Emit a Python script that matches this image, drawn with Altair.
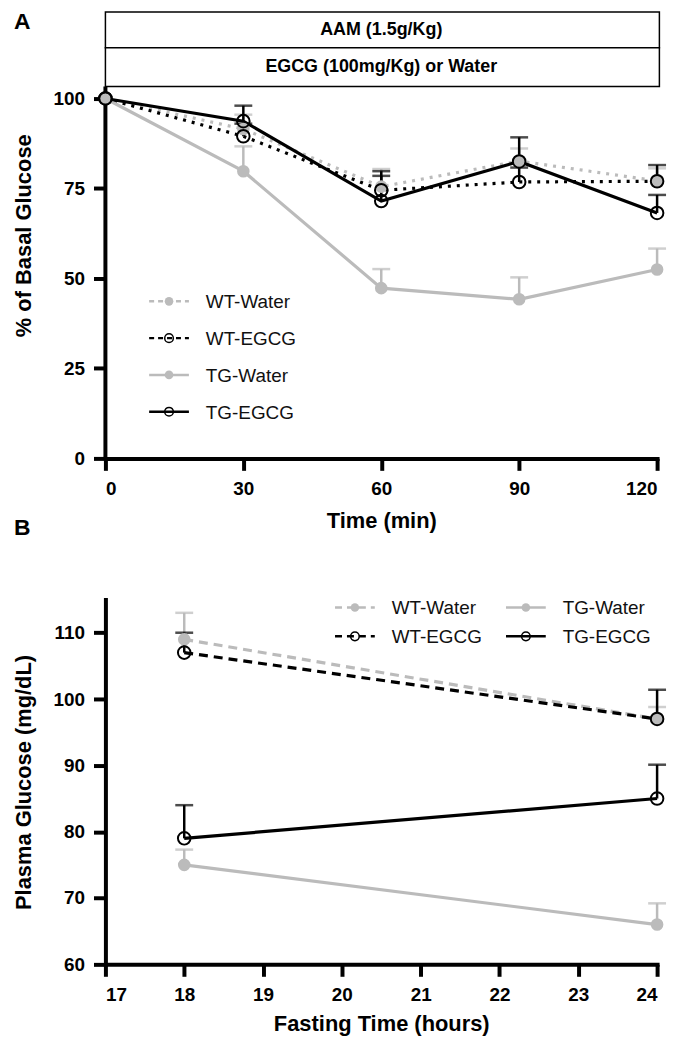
import altair as alt
import pandas as pd

# ---------------- data ----------------
series_names = ["WT-Water", "WT-EGCG", "TG-Water", "TG-EGCG"]

# Panel A: % of basal glucose vs time (min)
time_a = [0, 30, 60, 90, 120]
a_wt_water = [100, 91.5, 75.5, 82.6, 77.1]
a_wt_water_sem = [0, 4.0, 4.9, 3.5, 3.5]
a_wt_egcg = [100, 89.5, 74.5, 76.8, 77.0]
a_wt_egcg_sem = [0, 3.5, 4.0, 4.0, 4.5]
a_tg_water = [100, 79.8, 47.3, 44.2, 52.5]
a_tg_water_sem = [0, 6.9, 5.3, 6.1, 5.8]
a_tg_egcg = [100, 93.7, 71.5, 82.5, 68.2]
a_tg_egcg_sem = [0, 4.3, 8.3, 6.7, 5.0]

# Panel B: plasma glucose vs fasting time (hours)
time_b = [18, 24]
b_wt_water = [109, 97]
b_wt_water_sem = [4.0, 1.8]
b_wt_egcg = [107, 97]
b_wt_egcg_sem = [3.0, 4.4]
b_tg_water = [75, 66]
b_tg_water_sem = [2.3, 3.2]
b_tg_egcg = [79, 85]
b_tg_egcg_sem = [5.0, 5.1]

box_labels = ["AAM (1.5g/Kg)", "EGCG (100mg/Kg) or Water"]
a_ticks_y = [0, 25, 50, 75, 100]
b_ticks_x = [17, 18, 19, 20, 21, 22, 23, 24]
b_ticks_y = [60, 70, 80, 90, 100, 110]

# ---------------- style ----------------
FONT = "Liberation Sans, Arial, sans-serif"
GRAY = "#bbbbbb"
BLACK = "#000000"
styles = {
    "WT-Water": dict(color=GRAY, filled=True, wt=True),
    "WT-EGCG": dict(color=BLACK, filled=False, wt=True),
    "TG-Water": dict(color=GRAY, filled=True, wt=False),
    "TG-EGCG": dict(color=BLACK, filled=False, wt=False),
}


def frame(t, means, sems):
    return pd.DataFrame({"t": t, "v": means, "hi": [m + s for m, s in zip(means, sems)],
                         "sem": sems})


a_frames = {
    "WT-Water": frame(time_a, a_wt_water, a_wt_water_sem),
    "WT-EGCG": frame(time_a, a_wt_egcg, a_wt_egcg_sem),
    "TG-Water": frame(time_a, a_tg_water, a_tg_water_sem),
    "TG-EGCG": frame(time_a, a_tg_egcg, a_tg_egcg_sem),
}
b_frames = {
    "WT-Water": frame(time_b, b_wt_water, b_wt_water_sem),
    "WT-EGCG": frame(time_b, b_wt_egcg, b_wt_egcg_sem),
    "TG-Water": frame(time_b, b_tg_water, b_tg_water_sem),
    "TG-EGCG": frame(time_b, b_tg_egcg, b_tg_egcg_sem),
}


def series_layers(frames, X, Y, Yhi, wt_dash):
    bars, lines, pts_filled, pts_open = [], [], [], []
    for name in series_names:
        st = styles[name]
        df = frames[name]
        base = alt.Chart(df)
        err = df[df["sem"] > 0]
        eb = alt.Chart(err)
        bars.append(eb.mark_rule(color=st["color"], strokeWidth=2.5).encode(x=X, y=Y, y2=alt.Y2("hi:Q")))
        bars.append(eb.mark_tick(color=st["color"], orient="horizontal", size=18, thickness=2.5).encode(x=X, y=Yhi))
        lkw = dict(color=st["color"], strokeWidth=3.2)
        if st["wt"]:
            lkw["strokeDash"] = wt_dash
        lines.append(base.mark_line(**lkw).encode(x=X, y=Y))
        if st["filled"]:
            pts_filled.append(base.mark_point(shape="circle", filled=True, size=160, color=st["color"],
                                              opacity=1).encode(x=X, y=Y))
        else:
            pts_open.append(base.mark_point(shape="circle", filled=False, size=160, color=BLACK,
                                            strokeWidth=2, opacity=1).encode(x=X, y=Y))
    return bars + lines + pts_filled + pts_open


def legend_layers(items):
    out = []
    for (x0, y0, name, dash) in items:
        st = styles[name]
        one = alt.Data(values=[{"k": 1}])
        lkw = dict(color=st["color"], strokeWidth=2.5)
        if dash:
            lkw["strokeDash"] = dash
        out.append(alt.Chart(one).mark_rule(**lkw).encode(
            x=alt.value(x0), x2=alt.value(x0 + 40), y=alt.value(y0)))
        if st["filled"]:
            out.append(alt.Chart(one).mark_point(shape="circle", filled=True, size=75, color=st["color"],
                                                 opacity=1).encode(x=alt.value(x0 + 20), y=alt.value(y0)))
        else:
            out.append(alt.Chart(one).mark_point(shape="circle", filled=False, size=75, color=BLACK,
                                                 strokeWidth=1.5, opacity=1).encode(x=alt.value(x0 + 20), y=alt.value(y0)))
        out.append(alt.Chart(one).mark_text(align="left", baseline="middle", fontSize=19, font=FONT,
                                            color="#111111").encode(
            x=alt.value(x0 + 57), y=alt.value(y0 + 1), text=alt.value(name)))
    return out


# ---------------- Panel A ----------------
W = 555
axA_x = alt.Axis(values=time_a, title="Time (min)", titlePadding=13)
axA_y = alt.Axis(values=a_ticks_y, title="% of Basal Glucose", domain=False, titlePadding=18)
XA = alt.X("t:Q", scale=alt.Scale(domain=[0, 120], nice=False, zero=False), axis=axA_x)
YA = alt.Y("v:Q", scale=alt.Scale(domain=[0, 124], nice=False), axis=axA_y)
YAhi = alt.Y("hi:Q", scale=alt.Scale(domain=[0, 124], nice=False), axis=axA_y)

one = alt.Data(values=[{"k": 1}])
a_layers = []
# y axis line (stops below the treatment boxes)
a_layers.append(alt.Chart(one).mark_rule(color=BLACK, strokeWidth=4).encode(
    x=alt.datum(0), y=alt.datum(0), y2=alt.datum(103.3)))
# treatment boxes
box_rows = [(114.1, 124.0), (103.3, 114.1)]
for lab, (lo, hi) in zip(box_labels, box_rows):
    a_layers.append(alt.Chart(one).mark_rect(fill="white", stroke=BLACK, strokeWidth=1.5).encode(
        x=alt.datum(0), x2=alt.datum(120.5), y=alt.datum(lo), y2=alt.datum(hi)))
    a_layers.append(alt.Chart(one).mark_text(font=FONT, fontSize=18, fontWeight="bold", color=BLACK,
                                             baseline="middle").encode(
        x=alt.datum(60), y=alt.datum((lo + hi) / 2), text=alt.value(lab)))
a_layers += series_layers(a_frames, XA, YA, YAhi, [3, 6])
a_layers += legend_layers([
    (44, 291, "WT-Water", [5, 4]),
    (44, 328, "WT-EGCG", [5, 4]),
    (44, 365, "TG-Water", None),
    (44, 402, "TG-EGCG", None),
])
a_layers.append(alt.Chart(one).mark_text(font=FONT, fontSize=23, fontWeight="bold", align="left",
                                         baseline="middle", color=BLACK).encode(
    x=alt.value(-92), y=alt.value(10), text=alt.value("A")))
# panel label B placed below panel A's axis title
a_layers.append(alt.Chart(one).mark_text(font=FONT, fontSize=23, fontWeight="bold", align="left",
                                         baseline="middle", color=BLACK).encode(
    x=alt.value(-92), y=alt.value(519), text=alt.value("B")))
panelA = alt.layer(*a_layers).properties(width=W, height=449)

# ---------------- Panel B ----------------
axB_x = alt.Axis(values=b_ticks_x, title="Fasting Time (hours)", titlePadding=10)
axB_y = alt.Axis(values=b_ticks_y, title="Plasma Glucose (mg/dL)", titlePadding=18)
XB = alt.X("t:Q", scale=alt.Scale(domain=[17, 24], nice=False, zero=False), axis=axB_x)
YB = alt.Y("v:Q", scale=alt.Scale(domain=[60, 115], nice=False, zero=False), axis=axB_y)
YBhi = alt.Y("hi:Q", scale=alt.Scale(domain=[60, 115], nice=False, zero=False), axis=axB_y)

b_layers = series_layers(b_frames, XB, YB, YBhi, [9, 6])
b_layers += legend_layers([
    (231, 8, "WT-Water", [7, 5]),
    (231, 37, "WT-EGCG", [7, 5]),
    (403, 8, "TG-Water", None),
    (403, 37, "TG-EGCG", None),
])
panelB = alt.layer(*b_layers).properties(width=W, height=367)

chart = alt.vconcat(panelA, panelB, spacing=60).properties(
    padding={"left": 4, "top": 0, "right": 5, "bottom": 5}
).configure_view(stroke=None).configure_axis(
    labelFont=FONT, titleFont=FONT, labelFontSize=19, titleFontSize=22,
    labelFontWeight="bold", titleFontWeight="bold", labelColor=BLACK, titleColor=BLACK,
    domainColor=BLACK, tickColor=BLACK, domainWidth=4, tickWidth=4, tickSize=12,
    labelPadding=9, grid=False, domainCap="square"
)

chart.save("out.html", embed_options={"renderer": "svg", "actions": False})
